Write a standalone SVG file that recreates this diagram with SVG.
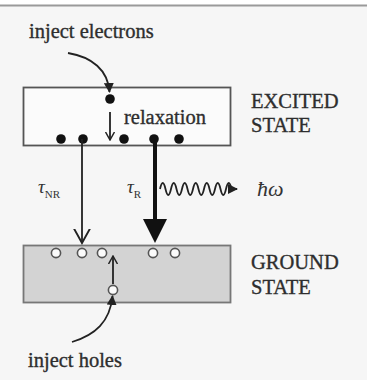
<svg xmlns="http://www.w3.org/2000/svg" width="367" height="380" viewBox="0 0 367 380">
<defs>
<style>
text{font-family:'Liberation Serif','DejaVu Serif',serif}
.t{fill:#2e2e2e;font-size:20.5px;stroke:#2e2e2e;stroke-width:0.35}
.it{fill:#333;font-style:italic}
.ln{stroke:#222;fill:none;stroke-width:1.8}
.dot{fill:#111}
.hole{fill:#fafafa;stroke:#555;stroke-width:1.6}
</style>
<marker id="fa" viewBox="0 0 10 10" refX="9" refY="5" markerWidth="10" markerHeight="10" markerUnits="userSpaceOnUse" orient="auto"><path d="M0,0 L10,5 L0,10 Z" fill="#222"/></marker>
<marker id="va" viewBox="0 0 10 10" refX="9" refY="5" markerWidth="16" markerHeight="18" markerUnits="userSpaceOnUse" orient="auto"><path d="M0,0 L9,5 L0,10" fill="none" stroke="#222" stroke-width="1.2"/></marker>
<marker id="sa" viewBox="0 0 10 10" refX="9" refY="5" markerWidth="9" markerHeight="10" markerUnits="userSpaceOnUse" orient="auto"><path d="M0,0 L9,5 L0,10" fill="none" stroke="#222" stroke-width="1.6"/></marker>
</defs>
<rect x="0" y="0" width="367" height="380" fill="#f6f6f6"/>
<rect x="0" y="0" width="367" height="5" fill="#ffffff"/>
<line x1="0" y1="5.5" x2="367" y2="5.5" stroke="#9a9a9a" stroke-width="2"/>

<g id="excited">
<rect x="23.5" y="87.5" width="207" height="58" fill="#fbfbfb" stroke="#555" stroke-width="1.8"/>
<circle class="dot" cx="110" cy="99" r="4.8"/>
<circle class="dot" cx="61" cy="139" r="4.8"/>
<circle class="dot" cx="83" cy="139" r="4.8"/>
<circle class="dot" cx="124" cy="139" r="4.8"/>
<circle class="dot" cx="154" cy="139" r="4.8"/>
<circle class="dot" cx="179" cy="139" r="4.8"/>
<text class="t" x="124" y="124">relaxation</text>
</g>
<g id="excited-label"><text class="t" x="251" y="108">EXCITED</text><text class="t" x="251" y="132">STATE</text></g>

<g id="ground">
<rect x="23.5" y="245.5" width="207" height="57" fill="#d3d3d3" stroke="#777" stroke-width="1.8"/>
<circle class="hole" cx="56" cy="253" r="4.6"/>
<circle class="hole" cx="82" cy="253" r="4.6"/>
<circle class="hole" cx="102" cy="253" r="4.6"/>
<circle class="hole" cx="153" cy="253" r="4.6"/>
<circle class="hole" cx="175" cy="253" r="4.6"/>
<circle class="hole" cx="113" cy="290" r="4.6"/>
</g>
<g id="ground-label"><text class="t" x="251" y="269">GROUND</text><text class="t" x="251" y="294">STATE</text></g>

<g id="inject-electrons"><text class="t" x="29" y="38">inject electrons</text></g>
<g id="inject-holes"><text class="t" x="28" y="367">inject holes</text></g>

<g id="labels">
<text class="it" x="38" y="193" font-size="19">τ<tspan font-size="11" font-style="normal" dy="5">NR</tspan></text>
<text class="it" x="127" y="193" font-size="19">τ<tspan font-size="11" font-style="normal" dy="5">R</tspan></text>
<text class="it" x="257" y="196" font-size="22">ħω</text>
</g>

<g id="connectors">
<path class="ln" d="M68,53 C92,57 108,70 109.5,92" stroke-width="2.2" marker-end="url(#fa)"/>
<line class="ln" x1="110" y1="112" x2="110" y2="140" stroke-width="1.6" marker-end="url(#sa)"/>
<line class="ln" x1="82" y1="139" x2="82" y2="243" stroke-width="1.8" marker-end="url(#va)"/>
<line x1="155" y1="139" x2="155" y2="221" stroke="#111" stroke-width="4"/>
<path d="M143,219 L167,219 L155,243 Z" fill="#111"/>
<path class="ln" d="M160,189 q2.75,-12 5.5,0 t5.5,0 t5.5,0 t5.5,0 t5.5,0 t5.5,0 t5.5,0 t5.5,0 t5.5,0 t5.5,0 t5.5,0 t5.5,0 t5.5,0 L237,189" stroke-width="1.8" marker-end="url(#fa)"/>
<line class="ln" x1="113" y1="284" x2="113" y2="256" stroke-width="1.6" marker-end="url(#sa)"/>
<path class="ln" d="M72,342 C95,335 110,322 112.5,296" stroke-width="2.2" marker-end="url(#fa)"/>
</g>
</svg>
